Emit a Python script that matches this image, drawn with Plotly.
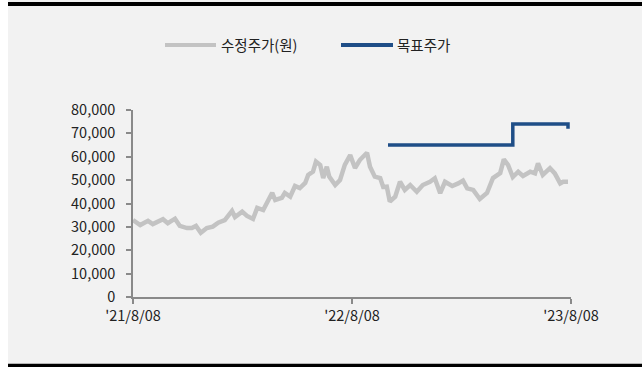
import plotly.graph_objects as go

# ---- data ----
price_dates = [
    "2021-08-08", "2021-08-20", "2021-09-02", "2021-09-10", "2021-09-27", "2021-10-05",
    "2021-10-17", "2021-10-25", "2021-11-06", "2021-11-14", "2021-11-21", "2021-11-29",
    "2021-12-09", "2021-12-19", "2021-12-28", "2022-01-08", "2022-01-20", "2022-01-25",
    "2022-02-06", "2022-02-14", "2022-02-24", "2022-03-03", "2022-03-13", "2022-03-28",
    "2022-04-02", "2022-04-13", "2022-04-18", "2022-04-27", "2022-05-05", "2022-05-13",
    "2022-05-22", "2022-05-27", "2022-06-04", "2022-06-09", "2022-06-16", "2022-06-21",
    "2022-06-27", "2022-07-01", "2022-07-11", "2022-07-19", "2022-07-27", "2022-08-05",
    "2022-08-13", "2022-08-21", "2022-09-02", "2022-09-07", "2022-09-15", "2022-09-24",
    "2022-09-29", "2022-10-05", "2022-10-10", "2022-10-19", "2022-10-27", "2022-11-04",
    "2022-11-13", "2022-11-24", "2022-12-04", "2022-12-16", "2022-12-24", "2023-01-02",
    "2023-01-10", "2023-01-22", "2023-02-01", "2023-02-09", "2023-02-16", "2023-02-26",
    "2023-03-09", "2023-03-21", "2023-03-31", "2023-04-12", "2023-04-18", "2023-04-25",
    "2023-05-03", "2023-05-12", "2023-05-20", "2023-06-01", "2023-06-09", "2023-06-14",
    "2023-06-22", "2023-07-04", "2023-07-12", "2023-07-21", "2023-07-26", "2023-08-03",
]
price_values = [
    32900, 30800, 32600, 31200, 33300, 31600,
    33500, 30400, 29500, 29500, 30400, 27500,
    29500, 30100, 31800, 32900, 36800, 34200,
    36500, 34700, 33400, 38100, 37200, 44600,
    41500, 42400, 44500, 42900, 47500, 46600,
    48800, 52200, 53600, 57900, 56500, 50900,
    55700, 51500, 47900, 50000, 56500, 60700,
    55200, 58600, 61700, 55700, 51500, 50900,
    47100, 47200, 40800, 42900, 49300, 45800,
    47900, 45000, 47900, 49300, 50800, 44400,
    49300, 47500, 48600, 49800, 46500, 45800,
    41900, 44500, 50900, 53000, 58900, 56500,
    51300, 53600, 51800, 53600, 52900, 57200,
    52200, 55100, 52900, 48600, 49300, 49300,
]
target_dates = ["2022-10-07", "2023-05-03", "2023-08-03"]
target_values = [65000, 74000, 72000]

series_names = ["수정주가(원)", "목표주가"]
x_tick_vals = ["2021-08-08", "2022-08-08", "2023-08-08"]
x_tick_text = ["'21/8/08", "'22/8/08", "'23/8/08"]
y_tick_vals = [0, 10000, 20000, 30000, 40000, 50000, 60000, 70000, 80000]

GRAY = "#c3c3c3"
BLUE = "#1f4e87"
AXIS = "#8a8a8a"
FONT = "Noto Sans CJK KR"
FS = 14.5

W, H = 642, 367
L, R, T, B = 133, 571, 110, 297  # plot area pixel bounds


def px(x):
    return (x - L) / (R - L)


def py(y):
    return (B - y) / (B - T)


fig = go.Figure()
fig.add_trace(go.Scatter(x=price_dates, y=price_values, mode="lines", name=series_names[0],
                         line=dict(color=GRAY, width=4.5)))
fig.add_trace(go.Scatter(x=target_dates, y=target_values, mode="lines", name=series_names[1],
                         line=dict(color=BLUE, width=3.5, shape="hv")))

shapes = [
    dict(type="rect", xref="paper", yref="paper", x0=px(0), x1=px(8), y0=py(H), y1=py(0),
         fillcolor="white", line=dict(width=0), layer="below"),
    dict(type="rect", xref="paper", yref="paper", x0=px(8), x1=px(W), y0=py(6), y1=py(2),
         fillcolor="black", line=dict(width=0), layer="above"),
    dict(type="line", xref="paper", yref="paper", x0=px(8), x1=px(W), y0=py(365.5), y1=py(365.5),
         line=dict(color="black", width=3.5)),
    dict(type="line", xref="paper", yref="paper", x0=px(165), x1=px(216), y0=py(45), y1=py(45),
         line=dict(color=GRAY, width=4)),
    dict(type="line", xref="paper", yref="paper", x0=px(341), x1=px(393), y0=py(45), y1=py(45),
         line=dict(color=BLUE, width=4)),
]
annotations = [
    dict(text=series_names[0], xref="paper", yref="paper", x=px(219), y=py(45),
         xanchor="left", yanchor="middle", showarrow=False,
         font=dict(family=FONT, size=FS, color="#222")),
    dict(text=series_names[1], xref="paper", yref="paper", x=px(395), y=py(45),
         xanchor="left", yanchor="middle", showarrow=False,
         font=dict(family=FONT, size=FS, color="#222")),
    # top rule drawn as a filled annotation box
    dict(text=" ", xref="paper", yref="paper", x=px(8), y=py(2.5),
         xanchor="left", yanchor="top", showarrow=False,
         width=W - 8, height=3, borderpad=0, borderwidth=0, bgcolor="black",
         font=dict(size=1)),
]

fig.update_layout(
    width=W, height=H,
    margin=dict(l=L, r=W - R, t=T, b=H - B, pad=0),
    paper_bgcolor="#f2f2f2", plot_bgcolor="#f2f2f2",
    showlegend=False,
    font=dict(family=FONT, size=FS, color="#222"),
    shapes=shapes, annotations=annotations,
    xaxis=dict(range=["2021-08-08", "2023-08-08"], tickvals=x_tick_vals, ticktext=x_tick_text,
               showgrid=False, zeroline=False, showline=True, linecolor=AXIS, linewidth=1.5,
               ticks="outside", ticklen=5, tickcolor=AXIS, tickwidth=1.5,
               ticklabelstandoff=0),
    yaxis=dict(range=[0, 80000], tickvals=y_tick_vals, tickformat=",",
               showgrid=False, zeroline=False, showline=True, linecolor=AXIS, linewidth=1.5,
               ticks="outside", ticklen=5, tickcolor=AXIS, tickwidth=1.5,
               ticklabelstandoff=8),
)

fig.write_html("out.html", config={"displayModeBar": False},
               post_script="document.body.style.margin='0px';")
